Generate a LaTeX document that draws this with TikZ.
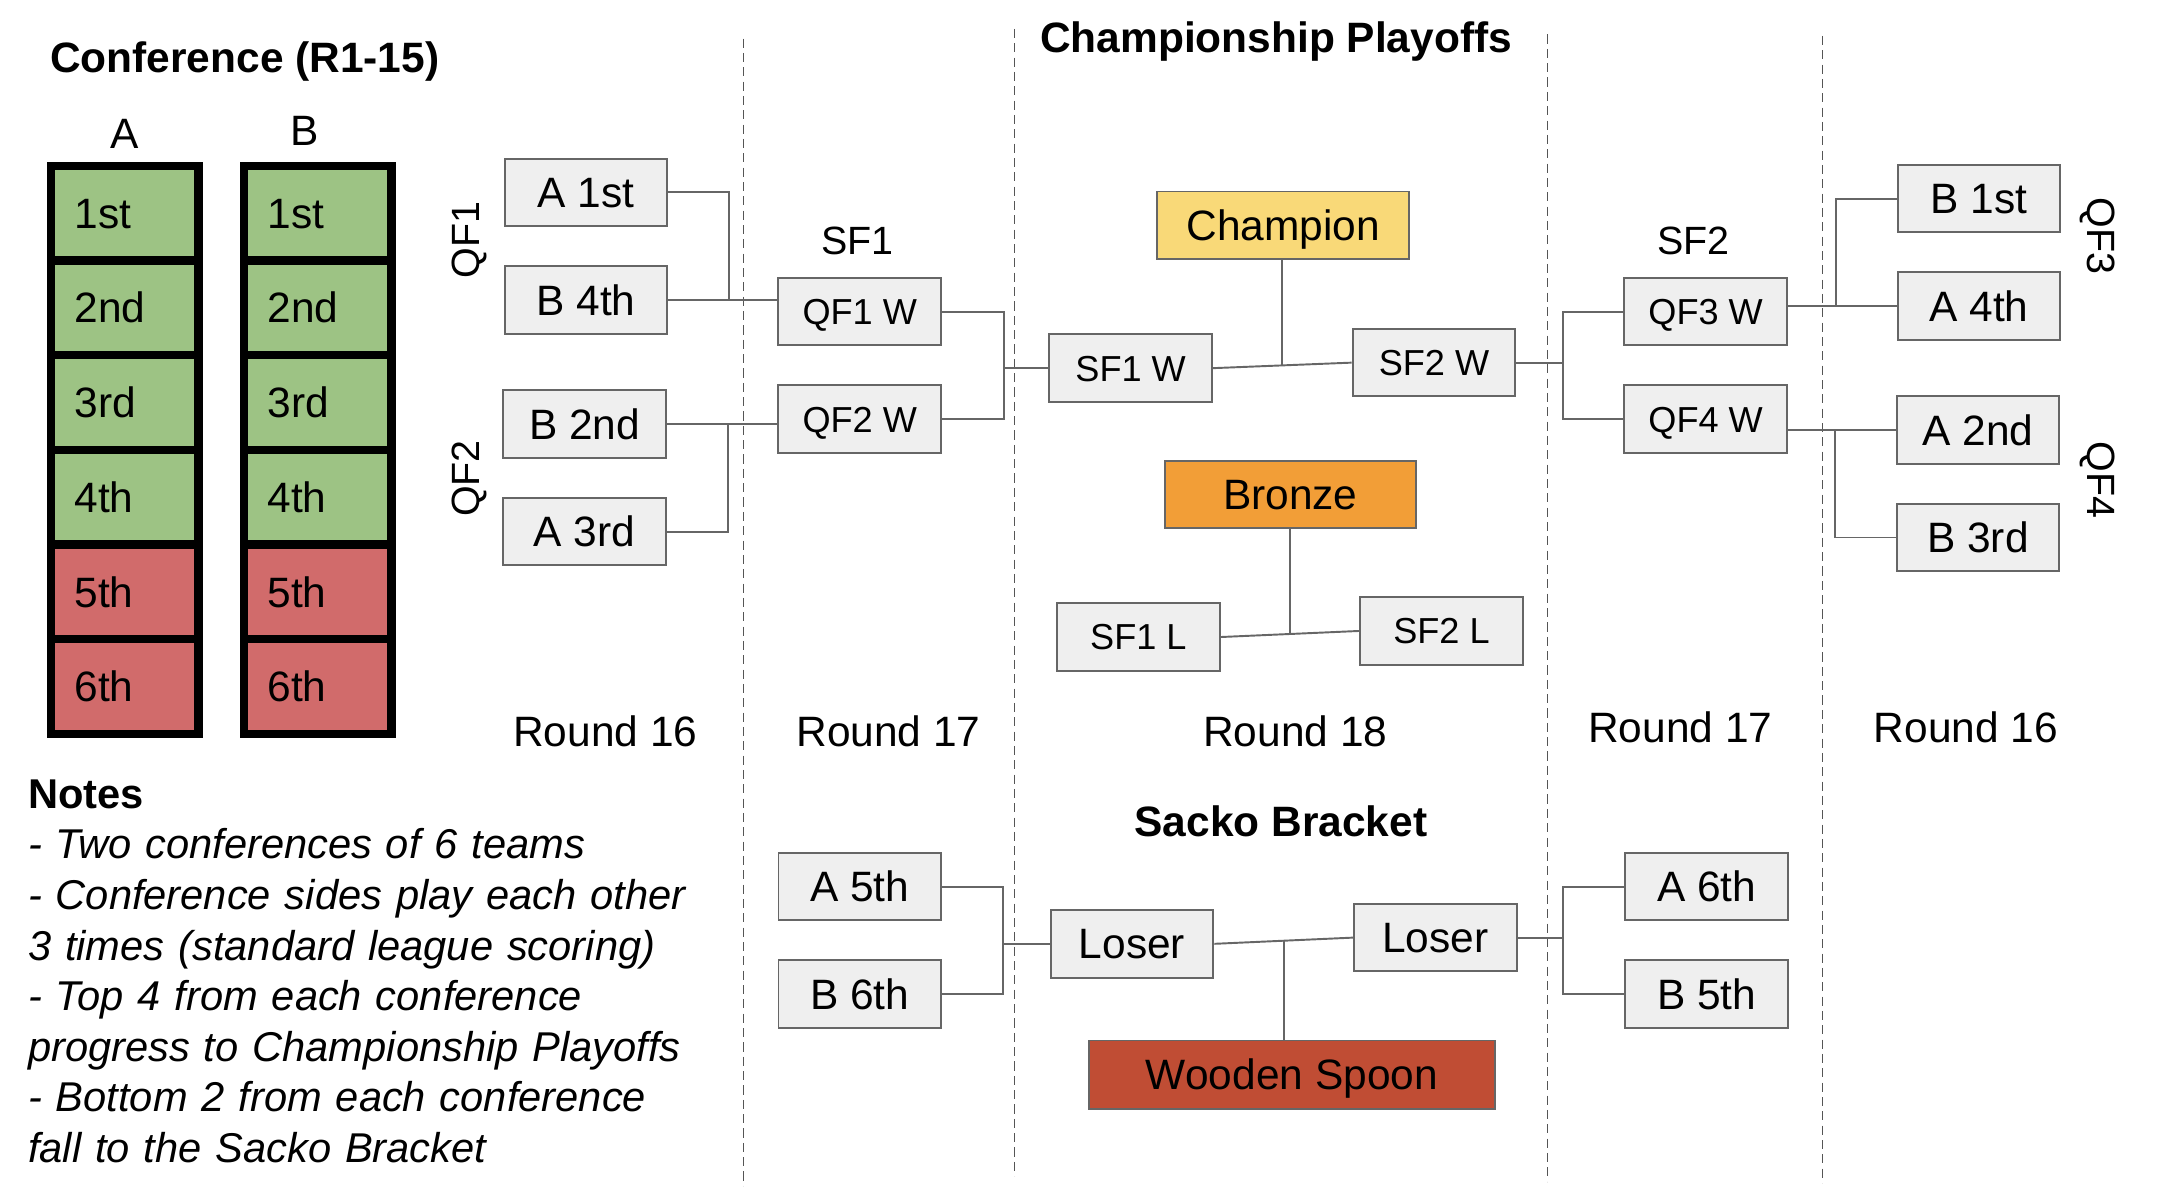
\documentclass[tikz,border=0pt]{standalone}
\usepackage{fontspec}
\setmainfont{Liberation Sans}
\usetikzlibrary{calc}
\definecolor{confgreen}{HTML}{9DC384}
\definecolor{confred}{HTML}{D16B6B}
\definecolor{boxgrey}{HTML}{EFEFEF}
\definecolor{boxline}{HTML}{666666}
\definecolor{divline}{HTML}{555555}
\definecolor{champyellow}{HTML}{F9D978}
\definecolor{bronzeorange}{HTML}{F29E37}
\definecolor{spoonred}{HTML}{C04D34}
\newcommand{\bigtext}{\fontsize{15.4}{18.35}\selectfont}
\newcommand{\notetext}{\fontsize{15.1}{18.35}\selectfont}
\newcommand{\smalltext}{\fontsize{13.1}{15.7}\selectfont}
\newcommand{\labeltext}{\fontsize{14.3}{17}\selectfont}
\tikzstyle{cell}=[rectangle,draw=black,line width=3pt,minimum height=34.35pt,text width=36.5pt,inner xsep=8.5pt,align=left,text height=11pt,text depth=0pt,font=\bigtext,node distance=34.35pt]
\tikzstyle{top4}=[cell,fill=confgreen]
\tikzstyle{bottom2}=[cell,fill=confred]
\tikzstyle{team}=[rectangle,draw=boxline,line width=0.7pt,fill=boxgrey,minimum width=59pt,minimum height=24.5pt,text height=11pt,text depth=0pt,font=\bigtext]
\tikzstyle{winner}=[team,font=\smalltext,text height=9.4pt]
\tikzstyle{prize}=[team,minimum width=91.2pt]
\tikzstyle{heading}=[font=\bigtext\bfseries,text height=11pt,text depth=0pt]
\tikzstyle{roundlabel}=[font=\bigtext,text height=11pt,text depth=0pt]
\tikzstyle{tag}=[font=\labeltext,text height=10.2pt,text depth=0pt]
\tikzstyle{link}=[draw=boxline,line width=0.7pt]
\tikzstyle{divider}=[draw=divline,line width=0.45pt,dash pattern=on 3.3pt off 1.9pt]
\begin{document}
\begin{tikzpicture}[x=0.5pt,y=-0.5pt,node distance=39pt]
		\useasboundingbox (0,0) rectangle (1568,873);
		
		% round dividers
		\draw[divider] (539,28) -- (539,860);
		\draw[divider] (736,21) -- (736,853);
		\draw[divider] (1122.5,25) -- (1122.5,857);
		\draw[divider] (1322,26) -- (1322,858);
		
		% conference tables
		\node (conftitle) [heading] at (177.5,41.5) {Conference (R1-15)};
		\node (confa) [roundlabel] at (90.5,96.6) {A};
		\node (confb) [roundlabel] at (221,94.5) {B};
		\node (ca1) [top4] at (90.5,154.5) {1st};
		\node (ca2) [top4, below of=ca1] {2nd};
		\node (ca3) [top4, below of=ca2] {3rd};
		\node (ca4) [top4, below of=ca3] {4th};
		\node (ca5) [bottom2, below of=ca4] {5th};
		\node (ca6) [bottom2, below of=ca5] {6th};
		\node (cb1) [top4] at (230.5,154.5) {1st};
		\node (cb2) [top4, below of=cb1] {2nd};
		\node (cb3) [top4, below of=cb2] {3rd};
		\node (cb4) [top4, below of=cb3] {4th};
		\node (cb5) [bottom2, below of=cb4] {5th};
		\node (cb6) [bottom2, below of=cb5] {6th};
		
		% championship playoffs, left half
		\node (a1st) [team] at (425,139.5) {A 1st};
		\node (b4th) [team, below of=a1st] {B 4th};
		\node (b2nd) [team] at (424,307.5) {B 2nd};
		\node (a3rd) [team, below of=b2nd] {A 3rd};
		\node (qf1) [tag, rotate=90] at (337.5,174) {QF1};
		\node (qf2) [tag, rotate=90] at (337.5,347) {QF2};
		\node (qf1w) [winner] at (623.5,226) {QF1 W};
		\node (qf2w) [winner, below of=qf1w] {QF2 W};
		\node (sf1) [tag] at (622,174.5) {SF1};
		
		% final and bronze match
		\node (title) [heading] at (925.5,27.4) {Championship Playoffs};
		\node (sf1w) [winner] at (820,267) {SF1 W};
		\node (sf2w) [winner] at (1040,263) {SF2 W};
		\node (champion) [prize, fill=champyellow] at (930.6,163.4) {Champion};
		\node (bronze) [prize, fill=bronzeorange] at (935.8,358.5) {Bronze};
		\node (sf1l) [winner] at (825.6,462) {SF1 L};
		\node (sf2l) [winner] at (1045.4,457.6) {SF2 L};
		
		% championship playoffs, right half
		\node (qf3w) [winner] at (1237,226) {QF3 W};
		\node (qf4w) [winner, below of=qf3w] {QF4 W};
		\node (sf2) [tag] at (1228,174.5) {SF2};
		\node (b1st) [team] at (1435.3,144) {B 1st};
		\node (a4th) [team, below of=b1st] {A 4th};
		\node (a2nd) [team] at (1434.5,311.8) {A 2nd};
		\node (b3rd) [team, below of=a2nd] {B 3rd};
		\node (qf3) [tag, rotate=-90] at (1524.5,171) {QF3};
		\node (qf4) [tag, rotate=-90] at (1524.5,348) {QF4};
		
		% round labels
		\node (r16left) [roundlabel] at (439,530.5) {Round 16};
		\node (r17left) [roundlabel] at (644.4,530.5) {Round 17};
		\node (r18) [roundlabel] at (939.5,530.5) {Round 18};
		\node (r17right) [roundlabel] at (1218.6,527.5) {Round 17};
		\node (r16right) [roundlabel] at (1425.7,527.5) {Round 16};
		
		% sacko bracket
		\node (sacko) [heading] at (929,595.8) {Sacko Bracket};
		\node (a5th) [team] at (623.6,643) {A 5th};
		\node (b6th) [team, below of=a5th] {B 6th};
		\node (loser1) [team] at (821,684.5) {Loser};
		\node (loser2) [team] at (1041,680) {Loser};
		\node (spoon) [team, fill=spoonred, minimum width=147.2pt, minimum height=24.9pt] at (937,779.5) {Wooden Spoon};
		\node (a6th) [team] at (1237.7,643) {A 6th};
		\node (b5th) [team, below of=a6th] {B 5th};
		
		% notes
		\node (notes) [anchor=north west, inner sep=0pt, text width=260pt, align=left, font=\notetext] at (20,565) {\textbf{Notes}\\
			\textit{- Two conferences of 6 teams}\\
			\textit{- Conference sides play each other}\\
			\textit{3 times (standard league scoring)}\\
			\textit{- Top 4 from each conference}\\
			\textit{progress to Championship Playoffs}\\
			\textit{- Bottom 2 from each conference}\\
			\textit{fall to the Sacko Bracket}};
		
		% connectors
		\draw[link] (a1st.east) -- ++(44,0) |- (b4th.east);
		\draw[link] (b4th.east) -- (b4th.east -| qf1w.west);
		\draw[link] (a3rd.east) -- ++(44,0) |- (b2nd.east);
		\draw[link] (b2nd.east) -- (b2nd.east -| qf2w.west);
		\draw[link] (qf1w.east) -- ++(45,0) coordinate (sf1j) |- (qf2w.east);
		\draw[link] (sf1w.west) -- (sf1w.west -| sf1j);
		
		\draw[link] (sf1w.east) -- (sf2w.west);
		\coordinate (finalj) at ($(sf1w.east)!0.5!(sf2w.west)$);
		\draw[link] (champion.south -| finalj) -- (finalj);
		\draw[link] (sf1l.east) -- (sf2l.west);
		\coordinate (bronzej) at ($(sf1l.east)!0.5!(sf2l.west)$);
		\draw[link] (bronze.south -| bronzej) -- (bronzej);
		
		\draw[link] (qf3w.west) -- ++(-44,0) coordinate (sf2j) |- (qf4w.west);
		\draw[link] (sf2w.east) -- (sf2w.east -| sf2j);
		\draw[link] (b1st.west) -- ++(-44,0) |- (a4th.west);
		\draw[link] (a4th.west) -- (a4th.west -| qf3w.east);
		\draw[link] (b3rd.west) -- ++(-44,0) |- (a2nd.west);
		\draw[link] (a2nd.west) -- (a2nd.west -| qf4w.east);
		
		\draw[link] (a5th.east) -- ++(44,0) coordinate (sackoj1) |- (b6th.east);
		\draw[link] (loser1.west) -- (loser1.west -| sackoj1);
		\draw[link] (a6th.west) -- ++(-44.6,0) coordinate (sackoj2) |- (b5th.west);
		\draw[link] (loser2.east) -- (loser2.east -| sackoj2);
		\draw[link] (loser1.east) -- (loser2.west);
		\coordinate (spoonj) at ($(loser1.east)!0.5!(loser2.west)$);
		\draw[link] (spoonj) -- (spoonj |- spoon.north);
		
		\end{tikzpicture}
\end{document}
